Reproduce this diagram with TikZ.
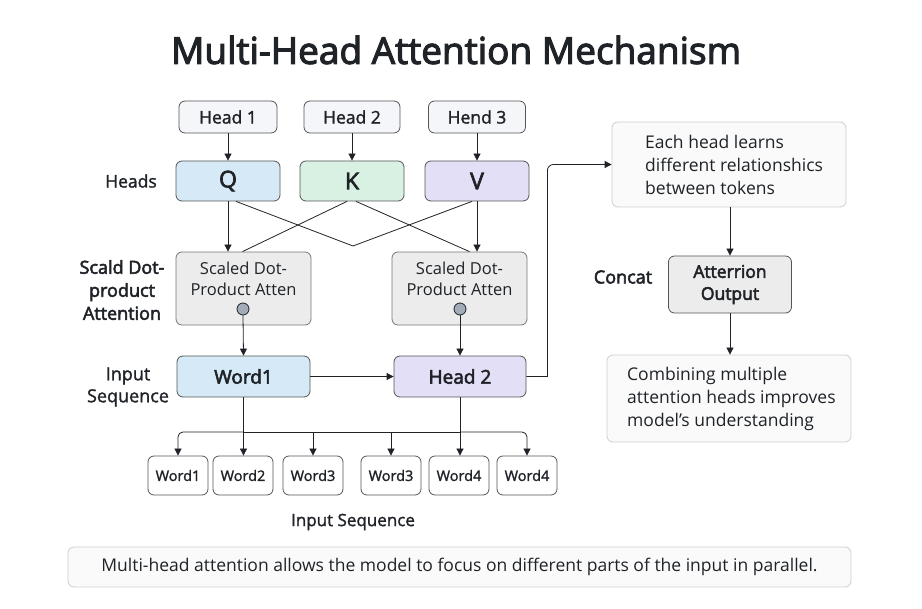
\documentclass[tikz,border=0pt]{standalone}
\usepackage{fontspec}
\setmainfont{Open Sans}
\newfontfamily\semif{Open Sans}[FakeBold=3]
\newfontfamily\medf{Open Sans}[FakeBold=1.5]
\usetikzlibrary{arrows.meta}
\definecolor{ink}{HTML}{1F2328}
\definecolor{edge}{HTML}{555555}
\definecolor{lightedge}{HTML}{CFCFCF}
\definecolor{qblue}{HTML}{D5EAF6}
\definecolor{kgreen}{HTML}{D9F1E2}
\definecolor{vpurple}{HTML}{E3DFF7}
\definecolor{boxgray}{HTML}{ECECEC}
\definecolor{headfill}{HTML}{F4F6F9}
\definecolor{notefill}{HTML}{FAFAFA}
\definecolor{dotfill}{HTML}{A3ABB8}
\newcommand{\fs}[2]{\fontsize{#1}{#2}\selectfont}
\begin{document}
\begin{tikzpicture}[x=1pt,y=-1pt,
  every node/.style={text=ink},
  bx/.style={draw=edge, line width=0.8pt, rounded corners=6pt, inner sep=0pt},
  headbox/.style={bx, fill=headfill, minimum height=32pt, font=\medf\fs{17.5}{20}},
  qkv/.style={bx, minimum width=104pt, minimum height=40pt, font=\semif\fs{23}{24}},
  sdpa/.style={bx, draw=edge!80, fill=boxgray, minimum width=135pt, minimum height=73pt},
  wordbox/.style={bx, fill=white, minimum width=60pt, minimum height=39pt, font=\medf\fs{14.5}{17}},
  mid/.style={bx, minimum width=133pt, minimum height=41pt, font=\semif\fs{19}{21}},
  note/.style={bx, draw=lightedge, fill=notefill},
  notetext/.style={font=\fs{17.5}{23}, align=left, anchor=west, inner sep=0pt},
  lbl/.style={font=\medf\fs{17.5}{23}, align=center},
  dot/.style={circle, draw=ink, line width=0.8pt, fill=dotfill, minimum size=12pt, inner sep=0pt},
  ln/.style={draw=ink, line width=0.8pt},
  arr/.style={ln, -{Triangle[length=7pt,width=7pt]}}
]
\fill[white] (0,0) rectangle (922,609);
\useasboundingbox (0,0) rectangle (922,609);

% title
\node[font=\semif\fs{37}{40}] (title) at (456,50) {Multi-Head Attention Mechanism};

% head boxes
\node[headbox, minimum width=98pt] (h1) at (228,117) {Head 1};
\node[headbox, minimum width=96pt] (h2) at (352,117) {Head 2};
\node[headbox, minimum width=97pt] (h3) at (477,117) {Hend 3};

% Q K V
\node[qkv, fill=qblue] (q) at (228,181) {Q};
\node[qkv, fill=kgreen] (k) at (352,181) {K};
\node[qkv, fill=vpurple] (v) at (477,181) {V};
\node[lbl] (lheads) at (131,181) {Heads};

\draw[arr] (h1.south) -- (q.north);
\draw[arr] (h2.south) -- (k.north);
\draw[arr] (h3.south) -- (v.north);

% scaled dot-product boxes
\node[sdpa] (s1) at (243.5,288.5) {};
\node[sdpa] (s2) at (459.5,288.5) {};
\node[font=\fs{16.5}{21}, align=center] (s1t) at (243.5,279) {Scaled Dot-\\Product Atten};
\node[font=\fs{16.5}{21}, align=center] (s2t) at (459.5,279) {Scaled Dot-\\Product Atten};
\node[dot] (c1) at (243,309) {};
\node[dot] (c2) at (460,309) {};
\node[lbl, font=\semif\fs{18}{23}] (lsdpa) at (122,290) {Scald Dot-\\product\\Attention};

% lines from Q K V
\coordinate (vx) at (353,246);
\draw[arr] (q.south) -- (q.south |- s1.north);
\draw[arr] (v.south) -- (v.south |- s2.north);
\draw[ln] ([xshift=8pt]q.south) -- (vx);
\draw[ln] ([xshift=-5pt]v.south) -- (vx);
\draw[ln] ([xshift=-5pt]k.south) -- ([xshift=-1pt]s1.north);
\draw[ln] ([xshift=4pt]k.south) -- ([xshift=10pt]s2.north);

% middle row
\node[mid, fill=qblue] (w1) at (243.5,376.5) {Word1};
\node[mid, fill=vpurple, minimum width=132pt] (hd2) at (460,376.5) {Head 2};
\node[lbl, font=\medf\fs{18}{22}] (linput) at (128,387) {Input\\Sequence};
\draw[arr] (c1.south) -- (w1.north);
\draw[arr] (c2.south) -- (hd2.north);
\draw[arr] (w1.east) -- (hd2.west);

% right column
\node[note, minimum width=234pt, minimum height=85pt] (each) at (729,164.5) {};
\node[notetext] (eacht) at (645,164.5) {Each head learns\\different relationshics\\between tokens};
\node[bx, fill=boxgray, minimum width=123pt, minimum height=57pt, font=\semif\fs{17.5}{22}, align=center] (att) at (730,284.5) {Atterrion\\Output};
\node[note, minimum width=244pt, minimum height=87pt] (comb) at (729,398.5) {};
\node[notetext] (combt) at (627,398.5) {Combining multiple\\attention heads improves\\model{\char"0027}s understanding};
\node[lbl, font=\semif\fs{18}{22}] (lconcat) at (623,277) {Concat};
\draw[arr] (hd2.east) -- ++(21,0) [rounded corners=6pt] |- (each.west);
\draw[arr] (each.south -| att.north) -- (att.north);
\draw[arr] (att.south) -- (att.south |- comb.north);

% word row
\node[wordbox] (wa) at (178,475.5) {Word1};
\node[wordbox] (wb) at (243,475.5) {Word2};
\node[wordbox] (wc) at (313,475.5) {Word3};
\node[wordbox] (wd) at (391,475.5) {Word3};
\node[wordbox] (we) at (459,475.5) {Word4};
\node[wordbox] (wf) at (527,475.5) {Word4};
\node[font=\medf\fs{17}{20}] (lseq) at (353,522) {Input Sequence};

\coordinate (busl) at (243.5,432);
\coordinate (busr) at (460,432);
\draw[ln] (busl) -- (busr);
\draw[arr, rounded corners=5pt] (busl) -| (wa.north);
\draw[arr, rounded corners=5pt] (busr) -| (wf.north);
\draw[arr] (w1.south) -- (w1.south |- wb.north);
\draw[arr] (hd2.south) -- (hd2.south |- we.north);
\draw[arr] (wc.north |- busl) -- (wc.north);
\draw[arr] (wd.north |- busl) -- (wd.north);

% caption
\node[bx, draw=lightedge, fill=notefill, minimum width=783pt, minimum height=40pt, font=\fs{17.5}{20}] (cap) at (459.5,567) {Multi-head attention allows the model to focus on different parts of the input in parallel.};
\end{tikzpicture}
\end{document}
